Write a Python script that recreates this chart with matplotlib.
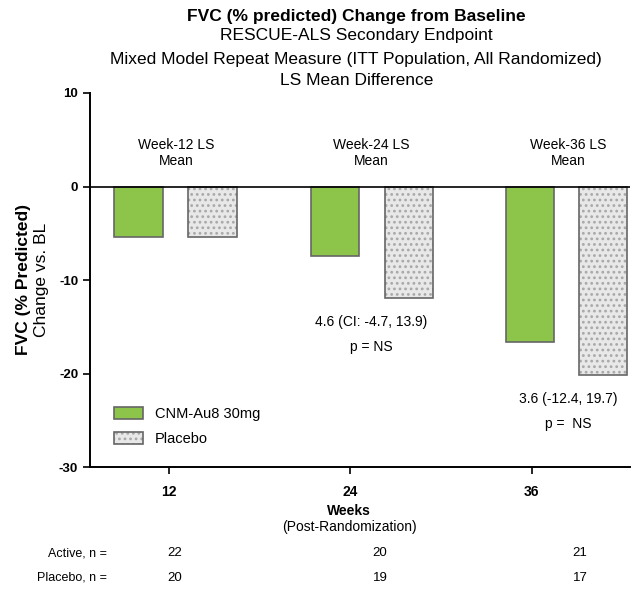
import matplotlib.pyplot as plt

plt.rcParams['font.family'] = ['Liberation Sans', 'DejaVu Sans']
plt.rcParams['axes.unicode_minus'] = False
plt.rcParams['hatch.linewidth'] = 1.2

weeks = [12, 24, 36]
active_mean = [-5.45, -7.4, -16.6]
placebo_mean = [-5.35, -11.9, -20.2]
active_n = [22, 20, 21]
placebo_n = [20, 19, 17]
week_notes = ['Week-12 LS\nMean', 'Week-24 LS\nMean', 'Week-36 LS\nMean']
diff_notes = ['', '4.6 (CI: -4.7, 13.9)', '3.6 (-12.4, 19.7)']
p_notes = ['', 'p = NS', 'p =  NS']

# bar placement offsets from the week tick (prism-style, not symmetric)
active_off = [-2.0, -1.0, -0.1]
placebo_off = [2.9, 3.9, 4.7]
note_off = [0.5, 1.4, 2.4]
bar_w = 3.2

fig = plt.figure(figsize=(6.43, 5.95), dpi=100)
ax = fig.add_axes([0.14, 0.2151, 0.84, 0.6286])

px = [w + o for w, o in zip(weeks, placebo_off)]
b1 = ax.bar([w + o for w, o in zip(weeks, active_off)], active_mean, width=bar_w,
            color='#8cc54a', edgecolor='#666666', linewidth=1.2)
# dotted fill in a light grey, outline drawn separately in darker grey
b2 = ax.bar(px, placebo_mean, width=bar_w, color='#e8e8e8',
            edgecolor='#a8a8a8', linewidth=0, hatch='...')
b3 = ax.bar(px, placebo_mean, width=bar_w, fill=False,
            edgecolor='#666666', linewidth=1.2)
ax.axhline(0, color='black', linewidth=1.2)

ax.set_xlim(6.8, 42.5)
ax.set_ylim(-30, 10)
ax.set_yticks([10, 0, -10, -20, -30])
ax.set_xticks(weeks)
ax.set_xticklabels([str(w) for w in weeks], fontweight='bold', fontsize=10)
ax.tick_params(axis='y', labelsize=9.5, width=1.2, length=5)
for lab in ax.get_yticklabels():
    lab.set_fontweight('bold')
ax.tick_params(axis='x', width=1.2, length=5, pad=8)
for s in ['top', 'right']:
    ax.spines[s].set_visible(False)
for s in ['left', 'bottom']:
    ax.spines[s].set_linewidth(1.4)

for w, o, t, d, p in zip(weeks, note_off, week_notes, diff_notes, p_notes):
    ax.text(w + o, 3.6, t, ha='center', va='center', fontsize=10, linespacing=1.15)
    if d:
        y0 = -14.5 if w == 24 else -22.7
        ax.text(w + o, y0, d, ha='center', va='center', fontsize=10)
        ax.text(w + o, y0 - 2.7, p, ha='center', va='center', fontsize=10)

ax.legend([b1[0], (b2[0], b3[0])], ['CNM-Au8 30mg', 'Placebo'],
          loc='lower left', bbox_to_anchor=(0.02, 0.02), frameon=False,
          fontsize=10.5, handlelength=2.0, handleheight=0.9, labelspacing=0.8,
          handletextpad=0.8)

tx = 0.554
fig.text(tx, 0.972, 'FVC (% predicted) Change from Baseline',
         ha='center', va='center', fontsize=12.5, fontweight='bold')
fig.text(tx, 0.940, 'RESCUE-ALS Secondary Endpoint', ha='center', va='center', fontsize=12.5)
fig.text(tx, 0.900, 'Mixed Model Repeat Measure (ITT Population, All Randomized)',
         ha='center', va='center', fontsize=12.5)
fig.text(tx, 0.865, 'LS Mean Difference', ha='center', va='center', fontsize=12.5)

fig.text(0.036, 0.53, 'FVC (% Predicted)', rotation=90, ha='center', va='center',
         fontsize=12.5, fontweight='bold')
fig.text(0.064, 0.53, 'Change vs. BL', rotation=90, ha='center', va='center', fontsize=12.5)

fig.text(0.543, 1 - 511 / 595, 'Weeks', ha='center', va='center', fontsize=10, fontweight='bold')
fig.text(0.543, 1 - 527 / 595, '(Post-Randomization)', ha='center', va='center', fontsize=10)

# n table under the axis
n_x = [175, 380, 580]
fig.text(107 / 643, 1 - 553 / 595, 'Active, n =', ha='right', va='center', fontsize=9)
fig.text(107 / 643, 1 - 578 / 595, 'Placebo, n =', ha='right', va='center', fontsize=9)
for x, a, p in zip(n_x, active_n, placebo_n):
    fig.text(x / 643, 1 - 553 / 595, str(a), ha='center', va='center', fontsize=9.5)
    fig.text(x / 643, 1 - 578 / 595, str(p), ha='center', va='center', fontsize=9.5)

fig.savefig('out.png', dpi=100)
